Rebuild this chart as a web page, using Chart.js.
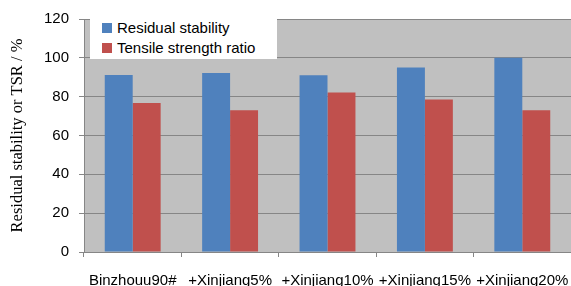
<!DOCTYPE html>
<html lang="en">
  <head>
    <meta charset="UTF-8" />
    <script src="https://cdn.jsdelivr.net/npm/chart.js@4.4.0/dist/chart.umd.min.js"></script>
    <title>Residual stability and TSR</title>
    <style>
      body {
        margin: 0;
        padding: 0;
        background: #fff;
      }
      .wrap {
        position: relative;
        width: 571px;
        height: 286px;
        overflow: hidden;
      }
      .legend {
        position: absolute;
        left: 90px;
        top: 19px;
        width: 187px;
        height: 40px;
        background: #fff;
        font: 15px 'Liberation Sans', Arial, sans-serif;
        color: #000;
      }
      .legend div {
        position: absolute;
        left: 12px;
        white-space: nowrap;
        line-height: 18px;
      }
      .legend span {
        display: inline-block;
        width: 10px;
        height: 10px;
        margin-right: 5px;
      }
    </style>
  </head>
  <body>
    <div class="wrap">
      <canvas id="chart" width="571" height="286"></canvas>
      <div class="legend" id="legend"></div>
    </div>
    <script>
      const categories = ['Binzhouu90#', '+Xinjiang5%', '+Xinjiang10%', '+Xinjiang15%', '+Xinjiang20%']
      const residualStability = [91.2, 92.2, 91, 95, 100]
      const tensileStrengthRatio = [76.7, 73, 82.2, 78.6, 73]
      const seriesNames = ['Residual stability', 'Tensile strength ratio']
      const seriesColors = ['#4f81bd', '#c0504d']

      const plotBackground = {
        id: 'plotBackground',
        beforeDraw(chart) {
          const { ctx, chartArea } = chart
          ctx.save()
          ctx.fillStyle = '#c0c0c0'
          ctx.fillRect(chartArea.left, chartArea.top, chartArea.right - chartArea.left, chartArea.bottom - chartArea.top)
          ctx.restore()
        },
      }

      const legend = document.getElementById('legend')
      seriesNames.forEach((name, i) => {
        const row = document.createElement('div')
        row.style.top = i === 0 ? '0px' : '20px'
        row.innerHTML = '<span style="background:' + seriesColors[i] + '"></span>' + name
        legend.appendChild(row)
      })

      new Chart(document.getElementById('chart').getContext('2d'), {
        type: 'bar',
        data: {
          labels: categories,
          datasets: [
            {
              label: seriesNames[0],
              data: residualStability,
              backgroundColor: seriesColors[0],
            },
            {
              label: seriesNames[1],
              data: tensileStrengthRatio,
              backgroundColor: seriesColors[1],
            },
          ],
        },
        options: {
          responsive: false,
          animation: false,
          categoryPercentage: 0.574,
          barPercentage: 1,
          layout: { padding: { top: 19, right: 0, left: 0, bottom: 0 } },
          plugins: {
            legend: { display: false },
            tooltip: { enabled: false },
          },
          scales: {
            x: {
              afterFit: (s) => {
                s.height = 34
                s.paddingRight = 0
                s.paddingLeft = 0
              },
              grid: {
                drawOnChartArea: false,
                color: '#868686',
                tickLength: 5,
              },
              border: { color: '#868686' },
              ticks: {
                autoSkip: false,
                maxRotation: 0,
                padding: 15,
                color: '#000',
                font: { family: 'Liberation Sans', size: 15 },
              },
            },
            y: {
              min: 0,
              max: 120,
              afterFit: (s) => { s.width = 84 },
              ticks: {
                stepSize: 20,
                padding: 10,
                color: '#000',
                font: { family: 'Liberation Sans', size: 15 },
              },
              grid: {
                color: '#868686',
                tickLength: 5,
              },
              border: { color: '#868686' },
              title: {
                display: true,
                text: 'Residual stability or TSR / %',
                color: '#000',
                padding: { top: 8, bottom: 0 },
                font: { family: 'Liberation Serif', size: 16.5 },
              },
            },
          },
        },
        plugins: [plotBackground],
      })
    </script>
  </body>
</html>
